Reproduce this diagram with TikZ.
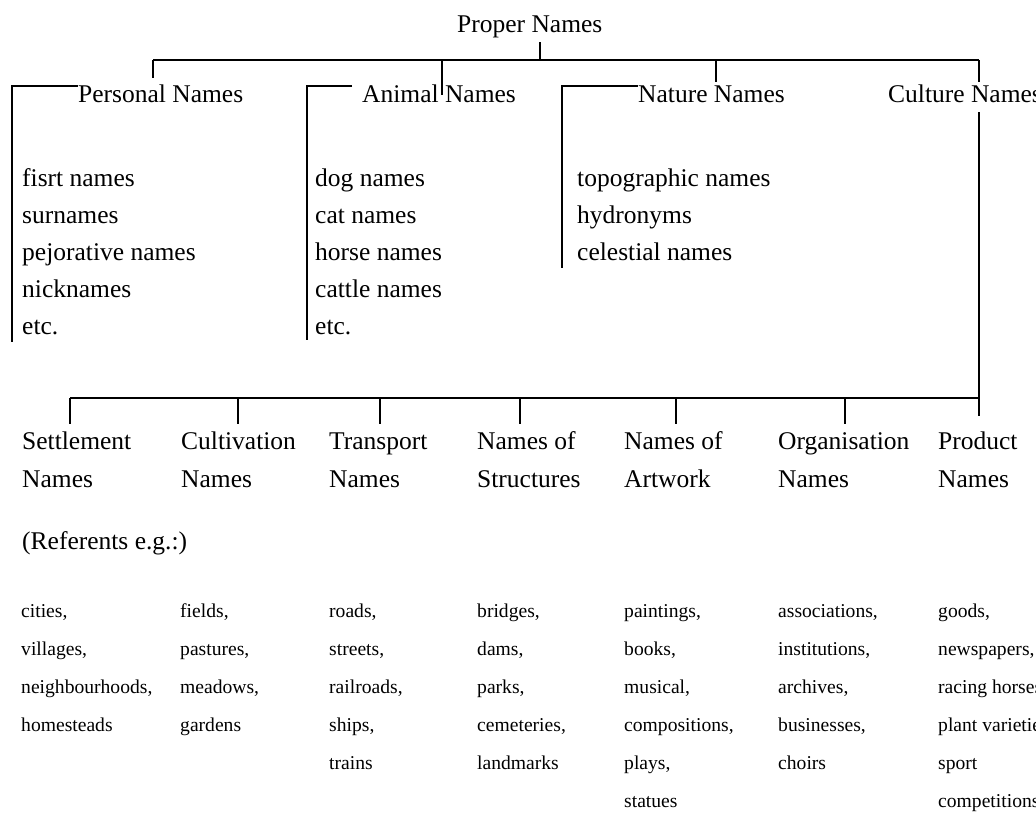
\documentclass[tikz,border=0pt]{standalone}
\usepackage{fontspec}
\setmainfont{Liberation Serif}
\begin{document}
\begin{tikzpicture}[x=1pt,y=-1pt,
  big/.style={inner sep=0pt,anchor=base west,font=\fontsize{25.5}{30}\selectfont},
  small/.style={inner sep=0pt,anchor=base west,font=\fontsize{19.6}{24}\selectfont},
  conn/.style={line width=1.6pt,line cap=butt,line join=miter}]
\useasboundingbox (0,0) rectangle (1036,814);
\fill[white] (0,0) rectangle (1036,814);
% top level
\node[big] (proper) at (457,32) {Proper Names};
\node[big] (personal) at (78,102) {Personal Names};
\node[big] (animal) at (362,102) {Animal Names};
\node[big] (nature) at (638,102) {Nature Names};
\node[big] (culture) at (888,102) {Culture Names};
% junction coordinates
\coordinate (pTop) at (540,42);
\coordinate (pJ) at (540,60);
\coordinate (jL) at (153,60);
\coordinate (jR) at (979,60);
\coordinate (dPers) at (153,78);
\coordinate (jAn) at (442,60);
\coordinate (dAn) at (442,95);
\coordinate (jNa) at (716,60);
\coordinate (dNa) at (716,82);
\coordinate (dCu) at (979,82);
\draw[conn] (pTop) -- (pJ);
\draw[conn] (jL) -- (jR);
\draw[conn] (jL) -- (dPers);
\draw[conn] (jAn) -- (dAn);
\draw[conn] (jNa) -- (dNa);
\draw[conn] (jR) -- (dCu);
% brackets
\coordinate (bP1) at (12,86); \coordinate (bP2) at (12,342);
\draw[conn] (personal.west |- bP1) -- (bP1) -- (bP2);
\coordinate (bA1) at (307,86); \coordinate (bA2) at (307,340);
\draw[conn] (352,86) -- (bA1) -- (bA2);
\coordinate (bN1) at (562,86); \coordinate (bN2) at (562,268);
\draw[conn] (nature.west |- bN1) -- (bN1) -- (bN2);
% lists
\foreach \t [count=\i] in {fisrt names,surnames,pejorative names,nicknames,etc.}
  \node[big] (pers\i) at (22,{186+37*(\i-1)}) {\t};
\foreach \t [count=\i] in {dog names,cat names,horse names,cattle names,etc.}
  \node[big] (anim\i) at (315,{186+37*(\i-1)}) {\t};
\foreach \t [count=\i] in {topographic names,hydronyms,celestial names}
  \node[big] (nat\i) at (577,{186+37*(\i-1)}) {\t};
% culture branch
\coordinate (cuTop) at (979,112);
\coordinate (cuBot) at (979,416);
\draw[conn] (cuTop) -- (cuBot);
\coordinate (hL) at (70,398);
\coordinate (hR) at (979,398);
\draw[conn] (hL) -- (hR);
\foreach \x/\n/\a/\b in {22/settle/Settlement/Names, 181/cultiv/Cultivation/Names, 329/transp/Transport/Names, 477/struct/Names of/Structures, 624/artw/Names of/Artwork, 778/organ/Organisation/Names, 938/prod/Product/Names}{
  \node[big] (\n a) at (\x,449) {\a};
  \node[big] (\n b) at (\x,487) {\b};
}
\foreach \x in {70,238,380,520,676,845}
  \draw[conn] (\x,398) -- (\x,424);
\node[big] (ref) at (22,549) {(Referents e.g.:)};
% referents
\foreach \t [count=\i] in {{cities,},{villages,},{neighbourhoods,},homesteads}
  \node[small] (r1\i) at (21,{617+38*(\i-1)}) {\t};
\foreach \t [count=\i] in {{fields,},{pastures,},{meadows,},gardens}
  \node[small] (r2\i) at (180,{617+38*(\i-1)}) {\t};
\foreach \t [count=\i] in {{roads,},{streets,},{railroads,},{ships,},trains}
  \node[small] (r3\i) at (329,{617+38*(\i-1)}) {\t};
\foreach \t [count=\i] in {{bridges,},{dams,},{parks,},{cemeteries,},landmarks}
  \node[small] (r4\i) at (477,{617+38*(\i-1)}) {\t};
\foreach \t [count=\i] in {{paintings,},{books,},{musical,},{compositions,},{plays,},statues}
  \node[small] (r5\i) at (624,{617+38*(\i-1)}) {\t};
\foreach \t [count=\i] in {{associations,},{institutions,},{archives,},{businesses,},choirs}
  \node[small] (r6\i) at (778,{617+38*(\i-1)}) {\t};
\foreach \t [count=\i] in {{goods,},{newspapers,},{racing horses,},{plant varieties,},sport,competitions}
  \node[small] (r7\i) at (938,{617+38*(\i-1)}) {\t};
\end{tikzpicture}
\end{document}
